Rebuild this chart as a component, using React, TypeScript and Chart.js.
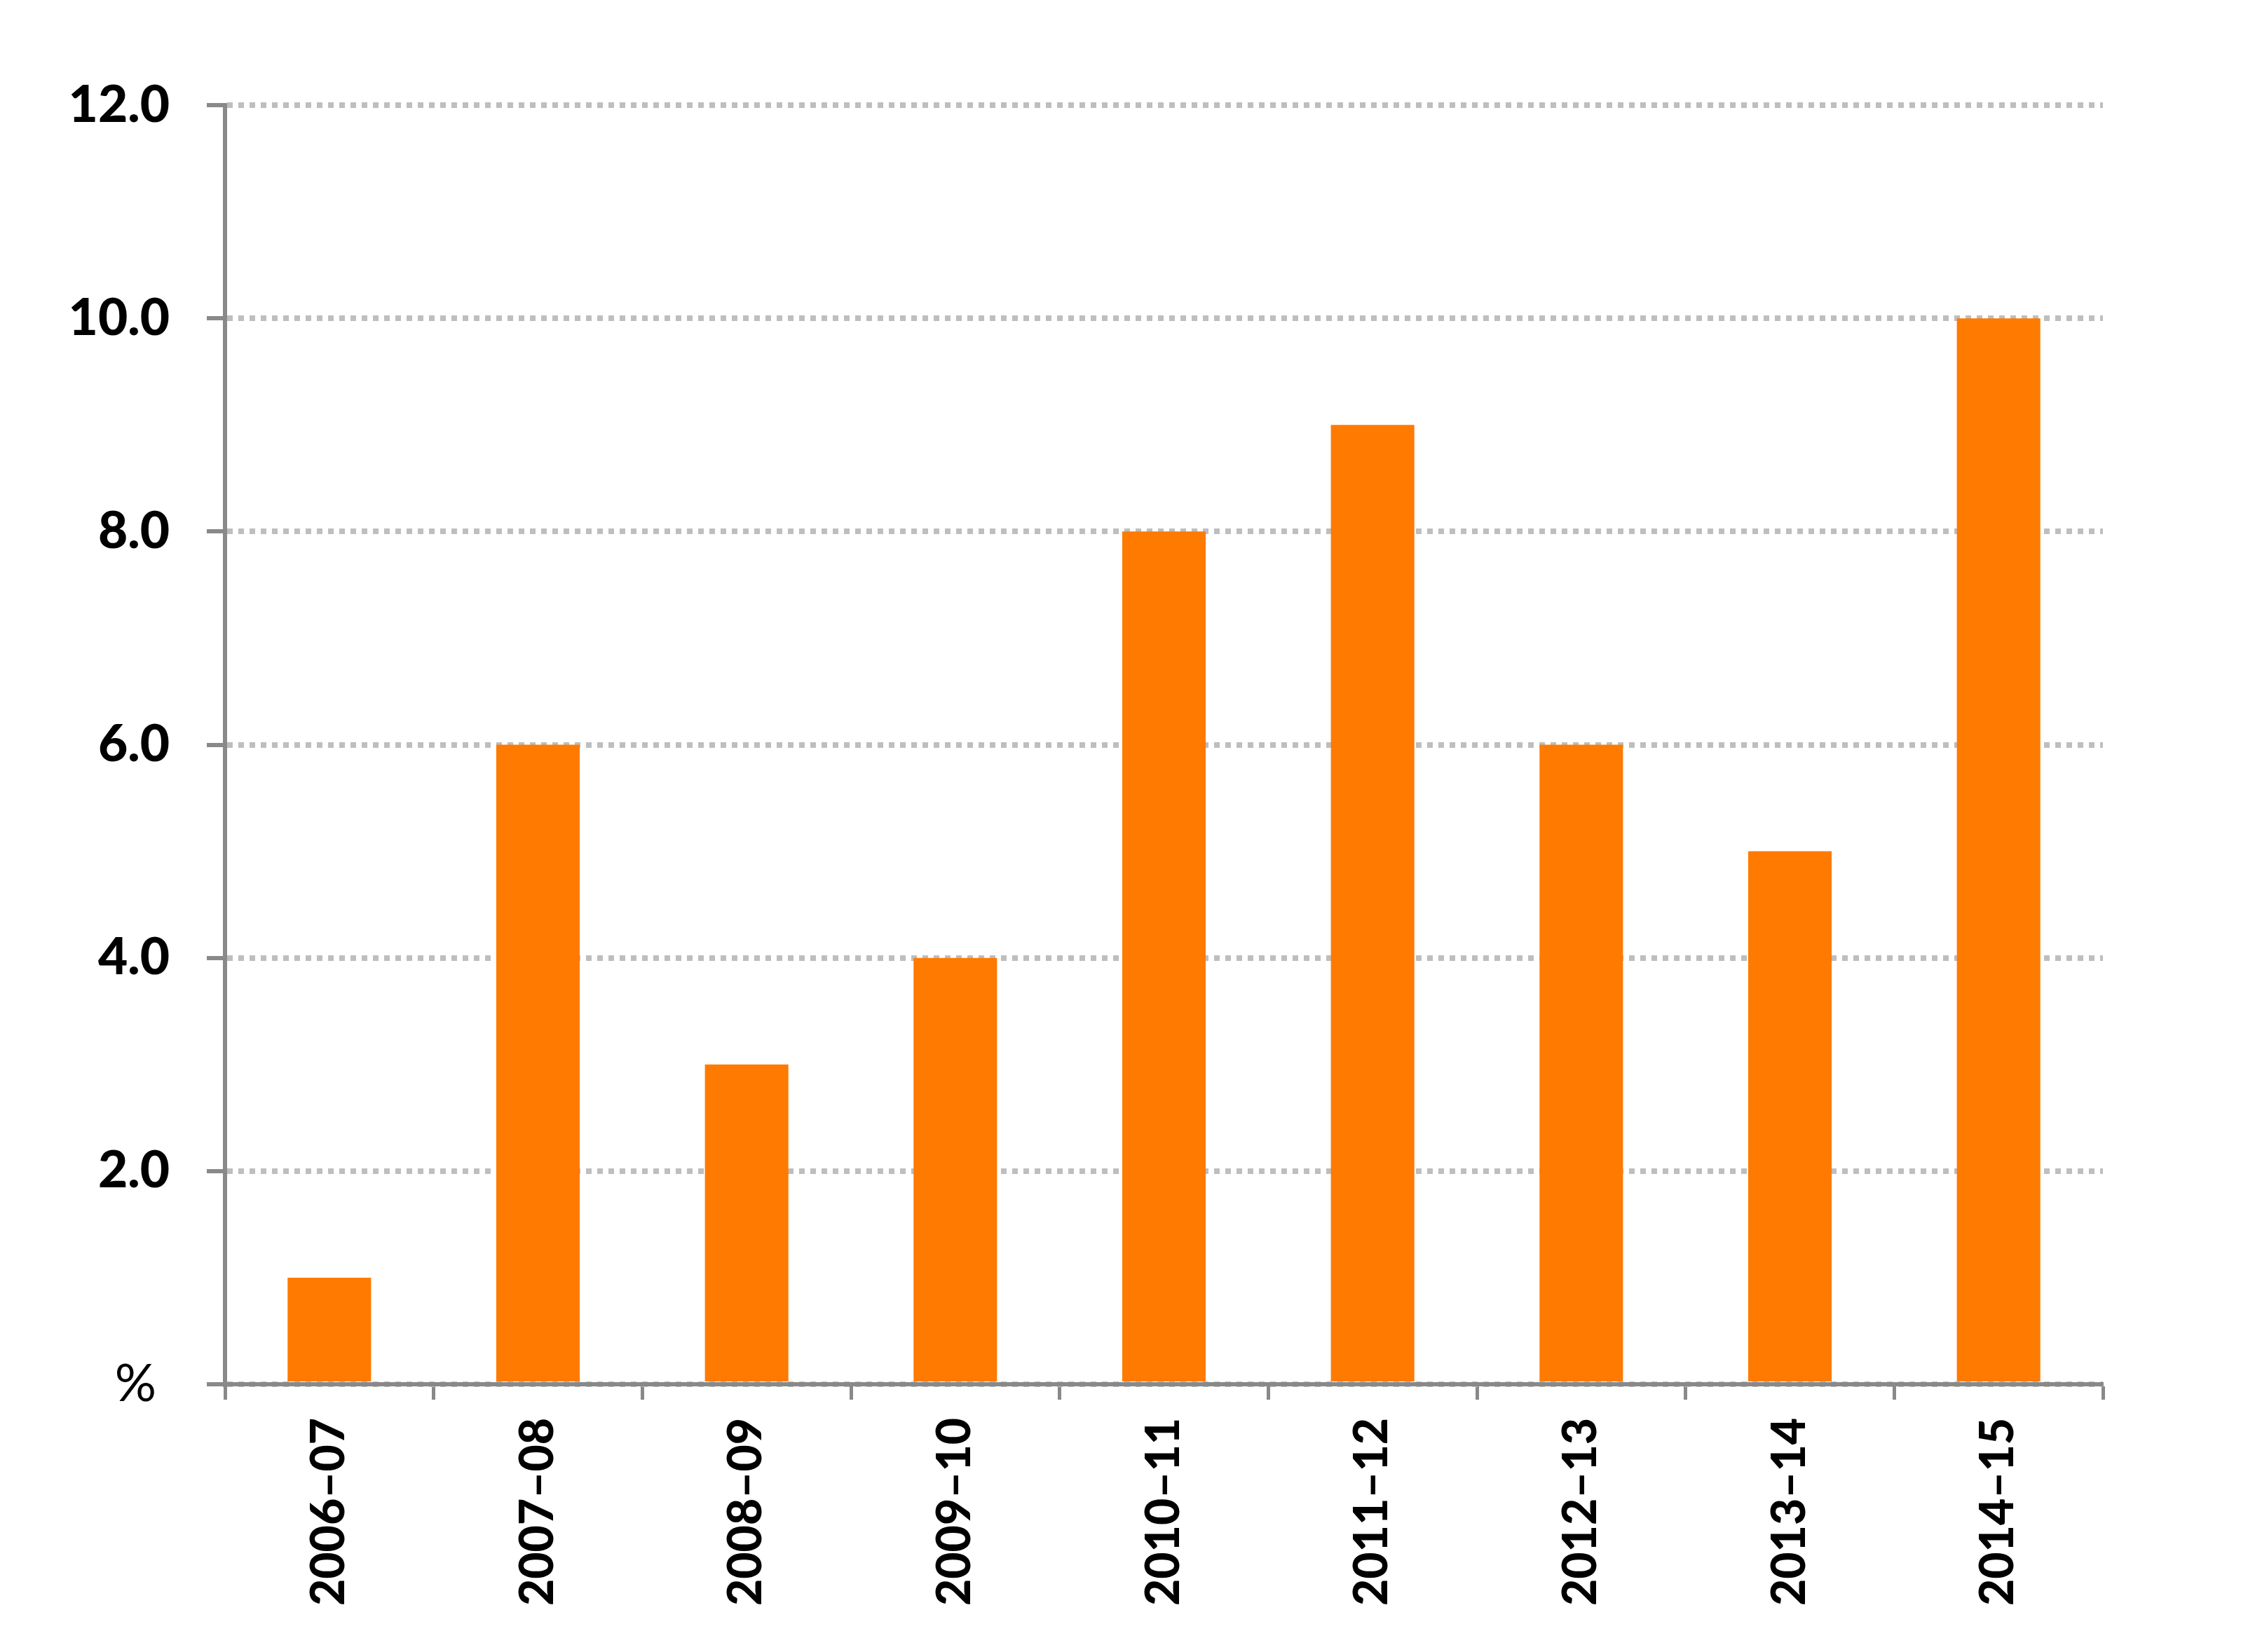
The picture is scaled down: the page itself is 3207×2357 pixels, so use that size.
import React, { useEffect, useRef } from "react";
import { Chart, registerables } from "chart.js";

Chart.register(...registerables);

const categories = ["2006–07", "2007–08", "2008–09", "2009–10", "2010–11", "2011–12", "2012–13", "2013–14", "2014–15"];
const values = [1, 6, 3, 4, 8, 9, 6, 5, 10];
const yMin = 0;
const yMax = 12;
const yStep = 2;
const zeroLabel = "% ";

const W = 3207;
const H = 2357;

export default function App() {
  const ref = useRef<HTMLCanvasElement | null>(null);

  useEffect(() => {
    document.body.style.margin = "0";
    const canvas = ref.current;
    if (!canvas) return;
    const axisColor = "#898989";
    const chart = new Chart(canvas, {
      type: "bar",
      data: {
        labels: categories,
        datasets: [
          {
            data: values,
            backgroundColor: "#FF7A00",
            borderWidth: 0,
            categoryPercentage: 1,
            barPercentage: 0.4,
          },
        ],
      },
      options: {
        responsive: false,
        animation: false,
        devicePixelRatio: 1,
        layout: { padding: { left: 0, right: 207, top: 150, bottom: 0 } },
        plugins: { legend: { display: false }, tooltip: { enabled: false } },
        scales: {
          x: {
            offset: true,
            grid: {
              offset: true,
              drawOnChartArea: false,
              drawTicks: true,
              tickLength: 22,
              tickColor: axisColor,
              tickWidth: 5,
            },
            border: { display: true, color: axisColor, width: 6 },
            ticks: {
              color: "#000",
              minRotation: 90,
              maxRotation: 90,
              padding: 26,
              font: { family: "Lato", weight: "900", size: 66 },
            },
            afterFit: (scale: any) => {
              scale.height = H - 1975;
            },
          },
          y: {
            min: yMin,
            max: yMax,
            grid: {
              color: "#BEBEBE",
              lineWidth: 8,
              drawTicks: true,
              tickLength: 26,
              tickColor: axisColor,
              tickWidth: 6,
              tickBorderDash: [],
            },
            border: { display: true, color: axisColor, width: 6, dash: [8, 8] } as any,
            ticks: {
              stepSize: yStep,
              color: "#000",
              padding: 53,
              callback: (v: any) => (Number(v) === 0 ? zeroLabel : Number(v).toFixed(1)),
              font: (ctx: any) =>
                ctx.tick && ctx.tick.value === 0
                  ? { family: "Lato", weight: "normal", size: 74 }
                  : { family: "Lato", weight: "900", size: 73 },
            },
            afterFit: (scale: any) => {
              scale.width = 321;
            },
          },
        },
      },
    });
    return () => chart.destroy();
  }, []);

  return <canvas ref={ref} width={W} height={H} style={{ display: "block", width: W, height: H }} />;
}
